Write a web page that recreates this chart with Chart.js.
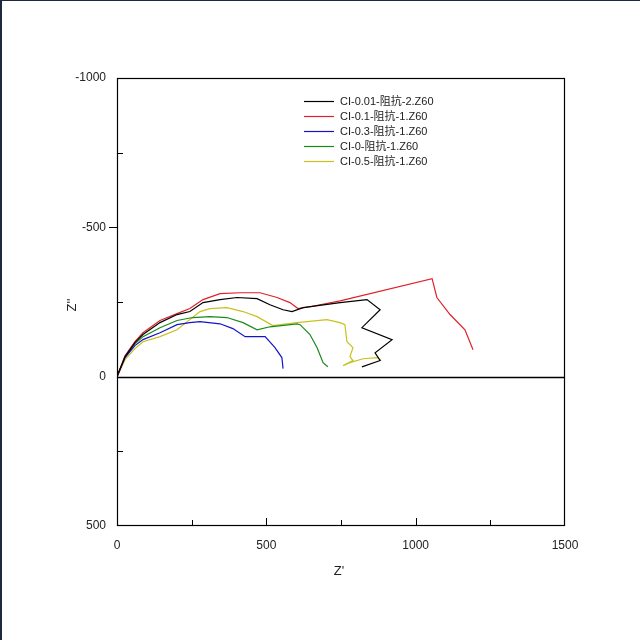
<!DOCTYPE html>
<html>
<head>
<meta charset="utf-8">
<script src="https://cdn.jsdelivr.net/npm/chart.js@4/dist/chart.umd.min.js"></script>
<style>
  html, body { margin: 0; padding: 0; background: #fff; }
  #wrap { width: 640px; height: 640px; }
</style>
</head>
<body>
<div id="wrap"><canvas id="myChart" width="640" height="640"></canvas></div>
<script>
// series names
const seriesNames = ['CI-0.01-阻抗-2.Z60', 'CI-0.1-阻抗-1.Z60', 'CI-0.3-阻抗-1.Z60', 'CI-0-阻抗-1.Z60', 'CI-0.5-阻抗-1.Z60'];
const seriesColors = ['#000000', '#e0202a', '#1414c8', '#1a8a1a', '#c8c21e'];

// Z' (x) and Z'' (y) values
const blackX = [0, 27, 60, 87, 144, 201, 244, 288, 345, 402, 469, 512, 556, 586, 623, 747, 837, 881, 820, 921, 864, 881, 820];
const blackY = [0, -67, -114, -141, -181, -208, -218, -248, -258, -265, -261, -241, -224, -218, -231, -248, -258, -224, -164, -124, -80, -54, -33];

const redX = [0, 27, 60, 87, 144, 201, 244, 288, 345, 412, 479, 536, 579, 606, 646, 747, 1055, 1071, 1115, 1165, 1192];
const redY = [0, -70, -117, -147, -188, -211, -228, -258, -278, -281, -281, -265, -248, -228, -234, -254, -328, -265, -208, -157, -90];

const blueX = [0, 27, 60, 87, 144, 201, 244, 278, 345, 388, 429, 496, 529, 552, 556];
const blueY = [0, -64, -104, -124, -147, -174, -181, -184, -177, -161, -134, -134, -97, -64, -27];

const greenX = [0, 27, 60, 87, 144, 201, 254, 311, 368, 422, 469, 512, 603, 613, 646, 670, 690, 706];
const greenY = [0, -67, -110, -134, -164, -188, -198, -201, -198, -181, -157, -167, -177, -174, -141, -97, -47, -33];

const yellowX = [0, 27, 60, 87, 144, 201, 244, 278, 311, 368, 422, 469, 522, 603, 703, 747, 763, 770, 790, 780, 790, 757, 780, 824, 871, 884];
const yellowY = [0, -57, -94, -117, -134, -157, -191, -218, -228, -231, -218, -201, -171, -181, -191, -181, -174, -117, -97, -67, -54, -37, -47, -60, -64, -54];

// axis ticks
const xTicks = [0, 500, 1000, 1500];
const yTicks = [-1000, -500, 0, 500];

const seriesX = [blackX, redX, blueX, greenX, yellowX];
const seriesY = [blackY, redY, blueY, greenY, yellowY];

const FONT = '"Liberation Sans", Arial, "Noto Sans CJK SC", sans-serif';

const datasets = seriesNames.map((name, i) => ({
    label: name,
    data: seriesX[i].map((x, j) => ({ x: x, y: seriesY[i][j] })),
    borderColor: seriesColors[i],
    backgroundColor: seriesColors[i],
    borderWidth: 1.2,
    pointRadius: 0,
    showLine: true,
    tension: 0
}));

// frame, zero line, inner ticks, titles, legend, page edge
const decorPlugin = {
    id: 'decor',
    afterDatasetsDraw(chart) {
        const ctx = chart.ctx;
        const a = chart.chartArea;
        const xs = chart.scales.x;
        const ys = chart.scales.y;
        ctx.save();
        ctx.strokeStyle = '#000';
        ctx.lineWidth = 1.3;
        // zero line
        const y0 = Math.round(ys.getPixelForValue(0)) + 0.5;
        ctx.beginPath();
        ctx.moveTo(a.left, y0);
        ctx.lineTo(a.right, y0);
        ctx.stroke();
        // frame
        ctx.lineWidth = 1.2;
        ctx.strokeRect(a.left + 0.5, a.top + 0.5, a.right - a.left - 1, a.bottom - a.top - 1);
        // x ticks (inward)
        ctx.lineWidth = 1;
        for (let v = 250; v < 1500; v += 250) {
            const px = Math.round(xs.getPixelForValue(v)) + 0.5;
            const len = v % 500 === 0 ? 8 : 6;
            ctx.beginPath();
            ctx.moveTo(px, a.bottom);
            ctx.lineTo(px, a.bottom - len);
            ctx.stroke();
        }
        // y ticks
        for (let v = -750; v < 500; v += 250) {
            if (v === 0) continue;
            const py = Math.round(ys.getPixelForValue(v)) + 0.5;
            ctx.beginPath();
            if (v % 500 === 0) {
                ctx.moveTo(a.left, py);
                ctx.lineTo(a.left - 8, py);
            } else {
                ctx.moveTo(a.left, py);
                ctx.lineTo(a.left + 6, py);
            }
            ctx.stroke();
        }
        // axis titles
        ctx.fillStyle = '#222';
        ctx.font = '13px ' + FONT;
        ctx.textAlign = 'center';
        ctx.textBaseline = 'middle';
        ctx.fillText("Z'", (a.left + a.right) / 2 - 2, 571);
        ctx.save();
        ctx.translate(72, (a.top + a.bottom) / 2 + 3);
        ctx.rotate(-Math.PI / 2);
        ctx.fillText("Z''", 0, 0);
        ctx.restore();
        // legend
        ctx.font = '11px ' + FONT;
        ctx.textBaseline = 'middle';
        ctx.textAlign = 'left';
        chart.data.datasets.forEach((ds, i) => {
            const ly = 101 + i * 15 + 0.5;
            ctx.strokeStyle = ds.borderColor;
            ctx.lineWidth = 1.2;
            ctx.beginPath();
            ctx.moveTo(304, ly);
            ctx.lineTo(334, ly);
            ctx.stroke();
            ctx.fillStyle = '#222';
            ctx.fillText(ds.label, 340, ly);
        });
        // page edge lines
        ctx.fillStyle = '#1e2840';
        ctx.fillRect(0, 0, 640, 1);
        ctx.fillRect(0, 0, 2, 640);
        ctx.restore();
    }
};

const ctx = document.getElementById('myChart').getContext('2d');
const myChart = new Chart(ctx, {
    type: 'scatter',
    data: { datasets: datasets },
    options: {
        responsive: false,
        animation: false,
        layout: { padding: { top: 78, right: 75, left: 0, bottom: 0 } },
        plugins: {
            legend: { display: false },
            tooltip: { enabled: false }
        },
        scales: {
            x: {
                type: 'linear',
                min: 0,
                max: 1500,
                afterFit: s => { s.height = 114; },
                afterBuildTicks: s => { s.ticks = xTicks.map(v => ({ value: v })); },
                grid: { display: false, drawTicks: false },
                border: { display: false },
                ticks: {
                    color: '#222',
                    font: { family: FONT, size: 12 },
                    padding: 12,
                    maxRotation: 0,
                    callback: v => String(v)
                }
            },
            y: {
                type: 'linear',
                reverse: true,
                min: -1000,
                max: 500,
                afterFit: s => { s.width = 117; },
                afterBuildTicks: s => { s.ticks = yTicks.map(v => ({ value: v })); },
                grid: { display: false, drawTicks: false },
                border: { display: false },
                ticks: {
                    color: '#222',
                    font: { family: FONT, size: 12 },
                    padding: 11,
                    callback: v => String(v)
                }
            }
        }
    },
    plugins: [decorPlugin]
});
</script>
</body>
</html>
